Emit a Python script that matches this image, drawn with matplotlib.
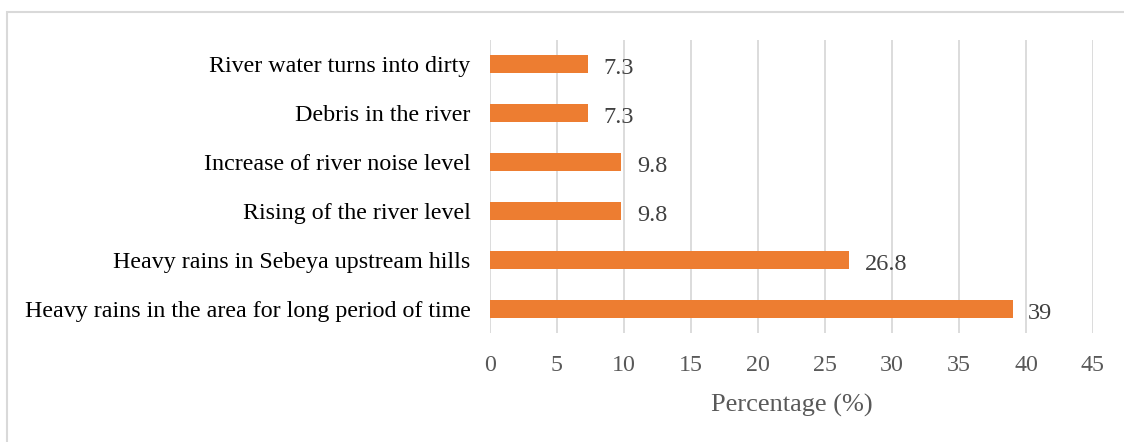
import matplotlib.pyplot as plt
from matplotlib.patches import Rectangle

categories = [
    "Heavy rains in the area for long period of time",
    "Heavy rains in Sebeya upstream hills",
    "Rising of the river level",
    "Increase of river noise level",
    "Debris in the river",
    "River water turns into dirty",
]
values = [39, 26.8, 9.8, 9.8, 7.3, 7.3]
value_labels = ["39", "26.8", "9.8", "9.8", "7.3", "7.3"]
x_ticks = [0, 5, 10, 15, 20, 25, 30, 35, 40, 45]

plt.rcParams['font.family'] = ['Liberation Serif', 'DejaVu Serif']

fig = plt.figure(figsize=(11.24, 4.42), dpi=100)
ax = fig.add_axes([0.436, 0.2466, 0.5364, 0.6629])

pos = list(range(len(categories)))
ax.barh(pos, values, height=0.37, color='#ED7D31', zorder=3)

for p, v, lab in zip(pos, values, value_labels):
    ax.text(v + 1.15, p - 0.04, lab, va='center_baseline', ha='left',
            fontsize=17.5, color='#404040')

ax.set_xlim(0, 45)
ax.set_ylim(-0.5, 5.5)
ax.set_xticks(x_ticks)
ax.set_yticks(pos)
ax.set_yticklabels(categories, fontsize=17.3, color='#000000')
ax.tick_params(axis='x', labelsize=17.3, colors='#595959', length=0, pad=16)
ax.tick_params(axis='y', length=0, pad=14)
ax.xaxis.grid(True, color='#D9D9D9', linewidth=1.3, zorder=0)
ax.set_xlabel("Percentage (%)", fontsize=19, color='#595959', labelpad=13)
for s in ax.spines.values():
    s.set_visible(False)

fig.patches.append(Rectangle((7 / 1124, -0.01), 1.2, 1 - 12 / 442 + 0.01,
                             transform=fig.transFigure, fill=False,
                             edgecolor='#D9D9D9', linewidth=1.5))

fig.savefig("out.png", dpi=100)
